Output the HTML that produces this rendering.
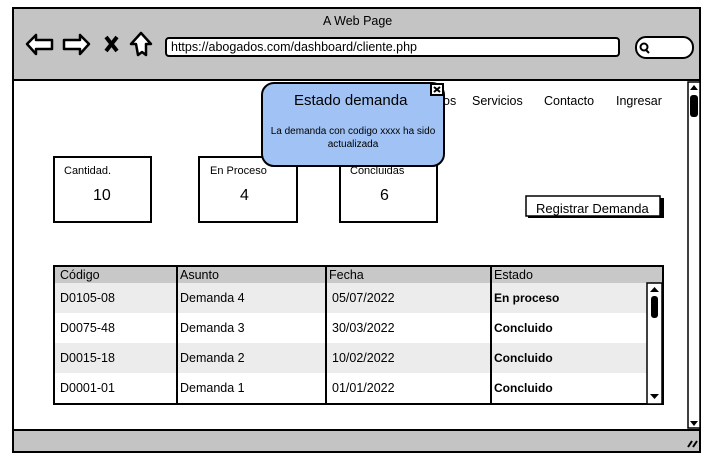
<!DOCTYPE html>
<html><head><meta charset="utf-8"><style>
body{margin:0;width:711px;height:461px;background:#fff;position:relative;overflow:hidden;font-family:"Liberation Sans",sans-serif;color:#000}
.a{position:absolute}
.t{position:absolute;white-space:nowrap;font-size:12.5px}
</style></head><body>
<svg class="a" style="left:0;top:0" width="711" height="461">
<rect x="13" y="8" width="687" height="444" fill="#fff" stroke="#000" stroke-width="2"/>
<rect x="13" y="8" width="687" height="72" fill="#c4c4c4" stroke="#000" stroke-width="2"/>
<rect x="13" y="430" width="687" height="22" fill="#c4c4c4" stroke="#000" stroke-width="2"/>
<path d="M688 447 L692 441 M693 447 L697 441" stroke="#000" stroke-width="2"/>
<rect x="166" y="38" width="453" height="18" rx="3" fill="#fff" stroke="#000" stroke-width="2"/>
<rect x="636" y="37" width="57" height="21" rx="10" fill="#fff" stroke="#000" stroke-width="2"/>
<circle cx="644" cy="47" r="3.5" fill="none" stroke="#000" stroke-width="2"/><path d="M646 50 L649 53" stroke="#000" stroke-width="2"/>
<path d="M27 44 L36 35 L36 40 L52 40 L52 49 L36 49 L36 54 Z" fill="#fff" stroke="#000" stroke-width="2.5" stroke-linejoin="round"/>
<path d="M89 44 L80 35 L80 40 L64 40 L64 49 L80 49 L80 54 Z" fill="#fff" stroke="#000" stroke-width="2.5" stroke-linejoin="round"/>
<path d="M106 37 L117 51 M117 37 L106 51" stroke="#000" stroke-width="4"/>
<path d="M141 33 L151 44 L146 44 L146 55 L142 52 L138 55 L136 44 L131 44 Z" fill="#fff" stroke="#000" stroke-width="2.5" stroke-linejoin="round"/>
<rect x="688" y="82" width="12" height="346" fill="#fff" stroke="#000" stroke-width="1.5"/>
<path d="M690 90 L694 85 L698 90Z" fill="#000"/><rect x="690" y="95" width="8" height="22" rx="3" fill="#000"/>
<path d="M690 421 L694 426 L698 421Z" fill="#000"/>
<rect x="54" y="157" width="97" height="65" fill="#fff" stroke="#000" stroke-width="2"/>
<rect x="199" y="157" width="98" height="65" fill="#fff" stroke="#000" stroke-width="2"/>
<rect x="340" y="157" width="97" height="65" fill="#fff" stroke="#000" stroke-width="2"/>
<rect x="528" y="198" width="136" height="20" fill="#000"/>
<rect x="526" y="196" width="134" height="20" fill="#fff" stroke="#000" stroke-width="1.5"/>
<rect x="54" y="266" width="609" height="138" fill="#fff" stroke="#000" stroke-width="2"/>
<rect x="55" y="267" width="607" height="16" fill="#c8c8c8"/>
<rect x="55" y="283" width="607" height="30" fill="#ececec"/>
<rect x="55" y="343" width="607" height="30" fill="#ececec"/>
<path d="M177 266 V404 M326 266 V404 M491 266 V404" stroke="#000" stroke-width="2"/>
<rect x="647" y="283" width="15" height="121" fill="#fff" stroke="#000" stroke-width="1.5"/>
<path d="M650 292 L654.5 287 L659 292Z" fill="#000"/><rect x="651" y="296" width="7" height="22" rx="3" fill="#000"/>
<path d="M650 394 L654.5 399 L659 394Z" fill="#000"/>
</svg>
<div class="t" style="left:350px;top:165px;font-size:11px">Concluidas</div>
<div class="t" style="left:443px;top:94px">os</div>
<svg class="a" style="left:0;top:0" width="711" height="200">
<rect x="262" y="83" width="182" height="83" rx="12" fill="#a0c2f4" stroke="#000" stroke-width="2"/>
<rect x="431" y="84" width="12" height="11" fill="#fff" stroke="#000" stroke-width="2"/>
<path d="M434 87 L440 92 M440 87 L434 92" stroke="#000" stroke-width="2"/>
</svg>
<div class="t" style="left:323px;top:14px">A Web Page</div>
<div class="t" style="left:171px;top:40px">https://abogados.com/dashboard/cliente.php</div>
<div class="t" style="left:472px;top:94px">Servicios</div>
<div class="t" style="left:544px;top:94px">Contacto</div>
<div class="t" style="left:616px;top:94px">Ingresar</div>
<div class="t" style="left:294px;top:92px;font-size:15px">Estado demanda</div>
<div class="t" style="left:262px;top:125px;width:182px;text-align:center;font-size:10px;white-space:normal;line-height:13px">La demanda con codigo xxxx ha sido<br>actualizada</div>
<div class="t" style="left:64px;top:165px;font-size:11px">Cantidad.</div>
<div class="t" style="left:93px;top:187px;font-size:16px">10</div>
<div class="t" style="left:210px;top:165px;font-size:11px">En Proceso</div>
<div class="t" style="left:240px;top:187px;font-size:16px">4</div>
<div class="t" style="left:380px;top:187px;font-size:16px">6</div>
<div class="t" style="left:536px;top:201px;font-size:13px">Registrar Demanda</div>
<div class="t" style="left:60px;top:268px">Código</div>
<div class="t" style="left:180px;top:268px">Asunto</div>
<div class="t" style="left:329px;top:268px">Fecha</div>
<div class="t" style="left:494px;top:268px">Estado</div>
<div class="t" style="left:60px;top:291px">D0105-08</div><div class="t" style="left:180px;top:291px">Demanda 4</div><div class="t" style="left:332px;top:291px">05/07/2022</div><div class="t" style="left:494px;top:291px;font-weight:bold;font-size:12px">En proceso</div>
<div class="t" style="left:60px;top:321px">D0075-48</div><div class="t" style="left:180px;top:321px">Demanda 3</div><div class="t" style="left:332px;top:321px">30/03/2022</div><div class="t" style="left:494px;top:321px;font-weight:bold;font-size:12px">Concluido</div>
<div class="t" style="left:60px;top:351px">D0015-18</div><div class="t" style="left:180px;top:351px">Demanda 2</div><div class="t" style="left:332px;top:351px">10/02/2022</div><div class="t" style="left:494px;top:351px;font-weight:bold;font-size:12px">Concluido</div>
<div class="t" style="left:60px;top:381px">D0001-01</div><div class="t" style="left:180px;top:381px">Demanda 1</div><div class="t" style="left:332px;top:381px">01/01/2022</div><div class="t" style="left:494px;top:381px;font-weight:bold;font-size:12px">Concluido</div>
</body></html>
